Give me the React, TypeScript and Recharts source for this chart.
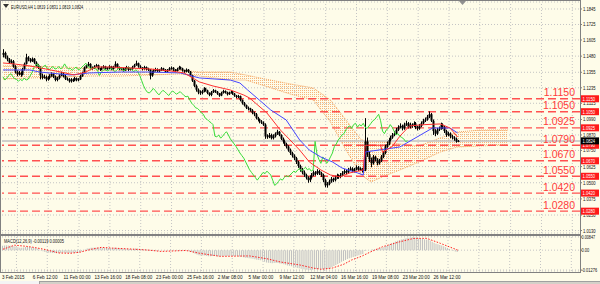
import React from "react";
import { ComposedChart, Bar, Line, Area, XAxis, YAxis, CartesianGrid, ReferenceLine } from "recharts";

// prices are in 1/10000, macd in 1/100000
const opens = [
  11490, 11505, 11470, 11455, 11430, 11440, 11400, 11360, 11340, 11350,
  11335, 11380, 11420, 11470, 11455, 11440, 11460, 11430, 11410, 11390,
  11330, 11315, 11320, 11300, 11310, 11330, 11340, 11320, 11295, 11310,
  11330, 11345, 11325, 11305, 11300, 11285, 11300, 11290, 11310, 11295,
  11300, 11325, 11350, 11390, 11410, 11420, 11395, 11385, 11400, 11410,
  11385, 11375, 11390, 11400, 11380, 11385, 11400, 11380, 11395, 11420,
  11395, 11380, 11385, 11370, 11385, 11395, 11375, 11380, 11395, 11410,
  11425, 11400, 11390, 11380, 11395, 11380, 11375, 11330, 11355, 11370,
  11380, 11365, 11370, 11385, 11375, 11360, 11370, 11385, 11390, 11375,
  11365, 11380, 11395, 11385, 11370, 11360, 11375, 11360, 11330, 11290,
  11250, 11220, 11200, 11195, 11210, 11230, 11215, 11195, 11180, 11200,
  11215, 11205, 11190, 11175, 11195, 11210, 11200, 11185, 11195, 11205,
  11190, 11175, 11165, 11170, 11140, 11115, 11100, 11080, 11075, 11060,
  11040, 11030, 11000, 10990, 10975, 10965, 10950, 10860, 10855, 10870,
  10845, 10860, 10880, 10895, 10870, 10840, 10820, 10800, 10780, 10755,
  10730, 10710, 10690, 10660, 10630, 10600, 10580, 10560, 10540, 10520,
  10540, 10560, 10580, 10570, 10590, 10575, 10560, 10520, 10480, 10490,
  10510, 10530, 10520, 10540, 10555, 10545, 10560, 10575, 10590, 10580,
  10600, 10610, 10590, 10605, 10620, 10600, 10610, 10590, 10600, 10820,
  10720, 10680, 10650, 10700, 10680, 10650, 10670, 10700, 10730, 10780,
  10800, 10830, 10850, 10870, 10880, 10910, 10930, 10940, 10920, 10950,
  10960, 10930, 10950, 10940, 10960, 10930, 10920, 10940, 10960, 10980,
  10990, 11010, 11030, 10980, 10900, 10880, 10910, 10920, 10950, 10930,
  10900, 10870, 10880, 10860, 10850, 10840, 10819,
];
const highs = [
  11534, 11515, 11485, 11465, 11455, 11450, 11410, 11370, 11365, 11360,
  11390, 11430, 11498, 11480, 11465, 11470, 11465, 11440, 11420, 11400,
  11345, 11335, 11330, 11325, 11340, 11355, 11350, 11330, 11320, 11340,
  11360, 11355, 11335, 11315, 11310, 11310, 11305, 11320, 11315, 11310,
  11335, 11360, 11400, 11420, 11435, 11425, 11400, 11410, 11420, 11415,
  11390, 11400, 11410, 11405, 11395, 11410, 11405, 11405, 11440, 11425,
  11400, 11395, 11390, 11395, 11405, 11400, 11390, 11405, 11420, 11445,
  11430, 11410, 11395, 11405, 11400, 11390, 11380, 11365, 11380, 11390,
  11385, 11380, 11395, 11390, 11380, 11380, 11395, 11400, 11395, 11380,
  11390, 11405, 11400, 11390, 11375, 11385, 11380, 11365, 11335, 11295,
  11260, 11230, 11215, 11220, 11240, 11235, 11220, 11200, 11210, 11225,
  11220, 11210, 11195, 11205, 11220, 11215, 11205, 11205, 11215, 11210,
  11195, 11180, 11180, 11175, 11145, 11125, 11105, 11090, 11080, 11070,
  11050, 11040, 11010, 10995, 10985, 10975, 10960, 10875, 10885, 10880,
  10875, 10890, 10910, 10900, 10875, 10850, 10830, 10810, 10790, 10765,
  10740, 10720, 10700, 10670, 10640, 10615, 10595, 10570, 10550, 10555,
  10575, 10595, 10590, 10605, 10600, 10585, 10570, 10530, 10505, 10525,
  10545, 10540, 10555, 10570, 10565, 10575, 10590, 10605, 10600, 10615,
  10625, 10620, 10615, 10635, 10630, 10620, 10615, 10610, 11000, 10850,
  10740, 10695, 10715, 10710, 10690, 10685, 10715, 10745, 10795, 10820,
  10845, 10865, 10885, 10900, 10925, 10945, 10960, 10950, 10965, 10980,
  10970, 10965, 10960, 10975, 10970, 10940, 10955, 10975, 10995, 11005,
  11025, 11052, 11040, 10990, 10915, 10925, 10935, 10965, 10960, 10940,
  10910, 10895, 10890, 10870, 10860, 10850, 10831,
];
const lows = [
  11470, 11460, 11440, 11420, 11420, 11390, 11345, 11325, 11330, 11320,
  11330, 11370, 11415, 11440, 11430, 11435, 11420, 11400, 11380, 11300,
  11300, 11305, 11285, 11290, 11300, 11320, 11310, 11285, 11285, 11300,
  11325, 11315, 11295, 11290, 11275, 11275, 11280, 11285, 11285, 11285,
  11295, 11320, 11345, 11385, 11400, 11385, 11375, 11380, 11395, 11375,
  11365, 11370, 11385, 11370, 11375, 11380, 11370, 11375, 11390, 11385,
  11370, 11370, 11360, 11365, 11380, 11365, 11370, 11375, 11390, 11405,
  11390, 11380, 11370, 11375, 11370, 11365, 11300, 11320, 11345, 11360,
  11355, 11355, 11365, 11365, 11350, 11350, 11365, 11375, 11365, 11355,
  11360, 11375, 11375, 11360, 11350, 11355, 11350, 11320, 11280, 11240,
  11205, 11185, 11180, 11185, 11200, 11205, 11185, 11170, 11170, 11195,
  11195, 11180, 11165, 11170, 11190, 11190, 11175, 11180, 11190, 11180,
  11165, 11155, 11155, 11130, 11105, 11090, 11070, 11060, 11050, 11030,
  11015, 10990, 10975, 10960, 10955, 10940, 10840, 10840, 10845, 10835,
  10835, 10850, 10870, 10860, 10830, 10805, 10785, 10765, 10740, 10715,
  10695, 10675, 10645, 10615, 10585, 10565, 10545, 10525, 10500, 10505,
  10530, 10550, 10555, 10560, 10560, 10545, 10505, 10465, 10462, 10480,
  10500, 10505, 10510, 10530, 10530, 10535, 10550, 10565, 10565, 10570,
  10590, 10580, 10580, 10595, 10590, 10590, 10580, 10580, 10590, 10700,
  10660, 10620, 10640, 10665, 10635, 10640, 10660, 10690, 10720, 10770,
  10790, 10820, 10840, 10860, 10870, 10900, 10920, 10905, 10910, 10940,
  10920, 10920, 10925, 10930, 10915, 10905, 10910, 10930, 10950, 10970,
  10980, 11000, 10970, 10870, 10860, 10870, 10900, 10910, 10915, 10885,
  10855, 10860, 10845, 10835, 10825, 10810, 10819,
];
const closes = [
  11505, 11470, 11455, 11430, 11440, 11400, 11360, 11340, 11350, 11335,
  11380, 11420, 11470, 11455, 11440, 11460, 11430, 11410, 11390, 11330,
  11315, 11320, 11300, 11310, 11330, 11340, 11320, 11295, 11310, 11330,
  11345, 11325, 11305, 11300, 11285, 11300, 11290, 11310, 11295, 11300,
  11325, 11350, 11390, 11410, 11420, 11395, 11385, 11400, 11410, 11385,
  11375, 11390, 11400, 11380, 11385, 11400, 11380, 11395, 11420, 11395,
  11380, 11385, 11370, 11385, 11395, 11375, 11380, 11395, 11410, 11425,
  11400, 11390, 11380, 11395, 11380, 11375, 11330, 11355, 11370, 11380,
  11365, 11370, 11385, 11375, 11360, 11370, 11385, 11390, 11375, 11365,
  11380, 11395, 11385, 11370, 11360, 11375, 11360, 11330, 11290, 11250,
  11220, 11200, 11195, 11210, 11230, 11215, 11195, 11180, 11200, 11215,
  11205, 11190, 11175, 11195, 11210, 11200, 11185, 11195, 11205, 11190,
  11175, 11165, 11170, 11140, 11115, 11100, 11080, 11075, 11060, 11040,
  11030, 11000, 10990, 10975, 10965, 10950, 10860, 10855, 10870, 10845,
  10860, 10880, 10895, 10870, 10840, 10820, 10800, 10780, 10755, 10730,
  10710, 10690, 10660, 10630, 10600, 10580, 10560, 10540, 10520, 10540,
  10560, 10580, 10570, 10590, 10575, 10560, 10520, 10480, 10490, 10510,
  10530, 10520, 10540, 10555, 10545, 10560, 10575, 10590, 10580, 10600,
  10610, 10590, 10605, 10620, 10600, 10610, 10590, 10600, 10820, 10720,
  10680, 10650, 10700, 10680, 10650, 10670, 10700, 10730, 10780, 10800,
  10830, 10850, 10870, 10880, 10910, 10930, 10940, 10920, 10950, 10960,
  10930, 10950, 10940, 10960, 10930, 10920, 10940, 10960, 10980, 10990,
  11010, 11030, 10980, 10900, 10880, 10910, 10920, 10950, 10930, 10900,
  10870, 10880, 10860, 10850, 10840, 10819, 10824,
];

// ichimoku lines read at a few bars: [bar, price]
const tenkan = [
  [0, 11427], [6, 11419], [14, 11404], [22, 11381], [30, 11357], [37, 11334], [43, 11357],
  [48, 11396], [56, 11396], [66, 11388], [76, 11381], [87, 11365], [94, 11350], [102, 11280],
  [109, 11249], [118, 11218], [125, 11179], [128, 11156], [137, 11040], [144, 10908],
  [149, 10831], [154, 10753], [159, 10661], [165, 10599], [170, 10560], [175, 10545],
  [180, 10576], [187, 10599], [188, 10790], [196, 10790], [197, 10735], [202, 10780],
  [206, 10860], [211, 10940], [219, 10950], [227, 10955], [232, 10924], [236, 10854],
];
const kijun = [
  [0, 11373], [14, 11373], [19, 11357], [35, 11334], [45, 11350], [61, 11357], [76, 11357],
  [92, 11350], [102, 11311], [118, 11295], [123, 11272], [127, 11218], [133, 11141],
  [139, 11063], [147, 10986], [154, 10831], [159, 10753], [165, 10699], [171, 10661],
  [176, 10614], [184, 10576], [187, 10560], [188, 10738], [206, 10777], [223, 10924],
  [232, 10924], [236, 10885],
];
const cloudUpper = [
  [0, 11404], [14, 11404], [30, 11396], [45, 11388], [61, 11381], [76, 11381], [92, 11373],
  [102, 11357], [118, 11357], [126, 11334], [136, 11303], [149, 11265], [161, 11234],
  [170, 11141], [178, 10986], [186, 10831], [191, 10823], [198, 10816], [206, 10800],
  [216, 10785], [227, 10847], [236, 10893], [248, 10908], [262, 10908],
];
const cloudLower = [
  [0, 11303], [14, 11311], [30, 11319], [45, 11326], [61, 11326], [76, 11334], [92, 11342],
  [102, 11326], [118, 11295], [126, 11295], [136, 11249], [149, 11187], [161, 11141],
  [170, 10970], [178, 10753], [186, 10560], [191, 10506], [198, 10552], [206, 10599],
  [216, 10661], [227, 10738], [236, 10777], [248, 10785], [262, 10792],
];

const macdMain = [
  280, 300, 310, 300, 290, 270, 250, 220, 190, 160,
  150, 170, 200, 210, 200, 190, 170, 140, 100, 40,
  -20, -70, -110, -140, -160, -170, -180, -190, -200, -190,
  -180, -170, -170, -180, -190, -190, -180, -170, -160, -150,
  -130, -80, -20, 40, 100, 130, 150, 160, 170, 160,
  150, 150, 150, 140, 140, 140, 130, 140, 160, 150,
  130, 120, 100, 90, 90, 80, 70, 70, 80, 100,
  100, 90, 70, 60, 40, 20, -30, -40, -40, -30,
  -30, -20, -10, -10, -10, -10, 0, 10, 10, 0,
  0, 10, 10, 0, -10, -10, -20, -60, -110, -170,
  -230, -280, -320, -340, -340, -350, -370, -390, -390, -380,
  -380, -390, -400, -390, -380, -380, -380, -370, -360, -360,
  -370, -380, -380, -400, -420, -450, -480, -500, -520, -540,
  -560, -590, -610, -630, -650, -660, -740, -790, -810, -830,
  -840, -830, -820, -830, -850, -880, -910, -940, -980, -1010,
  -1040, -1070, -1100, -1140, -1170, -1200, -1220, -1240, -1260, -1270,
  -1276, -1260, -1240, -1220, -1210, -1210, -1220, -1240, -1230, -1190,
  -1140, -1080, -1020, -960, -890, -820, -750, -690, -630, -570,
  -520, -480, -440, -400, -360, -320, -280, -240, -60, -20,
  0, 10, 40, 60, 70, 90, 120, 160, 210, 260,
  320, 380, 440, 500, 560, 610, 660, 690, 720, 750,
  780, 800, 820, 847, 830, 800, 770, 740, 720, 700,
  690, 680, 620, 540, 470, 420, 380, 340, 300, 250,
  190, 140, 80, 20, -40, -90, -119,
];
const macdSignal = [
  [0, 60], [6, 320], [12, 250], [16, 180], [22, 40], [29, -180], [35, -200], [40, -130],
  [46, 60], [51, 180], [57, 130], [67, 70], [76, 0], [82, -80], [95, -20], [102, -200],
  [113, -400], [123, -380], [128, -370], [137, -550], [144, -760], [154, -950],
  [161, -1150], [165, -1230], [171, -1150], [177, -900], [181, -630], [186, -400],
  [191, -100], [197, 220], [206, 540], [213, 750], [220, 760], [227, 440], [236, 5],
];

const levels = [11150, 11050, 10925, 10790, 10670, 10550, 10420, 10280];
const lastPrice = 10824;
const priceTicks = [11845, 11725, 11605, 11480, 11355, 11235, 11115, 10990, 10870, 10750, 10625, 10500, 10375, 10250, 10130];
const macdTicks = [847, 0, -1276];
const macdTickText = ["0.00847", "0.00", "-0.01276"];
const labelBars = [0, 16, 32, 48, 64, 80, 96, 112, 128, 144, 160, 176, 192, 208, 224];
const timeLabels = [
  "3 Feb 2015", "6 Feb 12:00", "11 Feb 00:00", "13 Feb 16:00", "18 Feb 08:00", "23 Feb 00:00",
  "25 Feb 16:00", "2 Mar 08:00", "5 Mar 00:00", "9 Mar 12:00", "12 Mar 04:00", "16 Mar 16:00",
  "19 Mar 08:00", "23 Mar 20:00", "26 Mar 12:00",
];
const headerText = "EURUSD,H4  1.0819 1.0831 1.0819 1.0824";
const macdTitle = "MACD(12,26,9) -0.00119 0.00005";

const SLOTS = 300;
const FONT = "'Liberation Sans', Arial, sans-serif";
const BG = "#fefce9";
const GRID = "#c4c4c4";
const P = (v: number) => v / 10000;
const M = (v: number) => v / 100000;
const PRICE_DOMAIN = [1.0111, 1.1899];
const MACD_DOMAIN = [-0.0134, 0.00911];
const CHAR_W = 2.25; // squeeze of the small platform font

const gridBars = labelBars.concat([240, 256, 272, 288]).map((b) => b + 7);

// table for the candle layer (category axis, one row per slot)
const rows: any[] = Array.from({ length: SLOTS }, (_, i) => ({ i }));
closes.forEach((c, i) => {
  rows[i].hl = [P(lows[i]), P(highs[i])];
  rows[i].o = P(opens[i]);
  rows[i].c = P(c);
  if (i >= 26) rows[i - 26].chikou = P(c);
});
tenkan.forEach(([i, v]) => (rows[i].tenkan = P(v)));
kijun.forEach(([i, v]) => (rows[i].kijun = P(v)));

// cloud layer (numeric axis)
const cloudRows = cloudUpper.map(([i, u], k) => ({
  i,
  band: [P(cloudLower[k][1]), P(u)],
  up: P(u),
  lo: P(cloudLower[k][1]),
}));

const macdRows: any[] = Array.from({ length: SLOTS }, (_, i) => ({ i }));
macdMain.forEach((v, i) => (macdRows[i].macd = M(v)));
macdSignal.forEach(([i, v]) => (macdRows[i].signal = M(v)));

const SmallText = ({ x, y, text, fill = "#111", size = 6, w = CHAR_W }: any) => (
  <text
    x={x}
    y={y}
    fontSize={size}
    fill={fill}
    fontFamily={FONT}
    textLength={text.length * w}
    lengthAdjust="spacingAndGlyphs"
  >
    {text}
  </text>
);

const Candle = (props: any) => {
  const { x, width, payload } = props;
  let { y, height } = props;
  if (!payload || payload.o == null) return null;
  if (height < 0) {
    y += height;
    height = -height;
  }
  const [lo, hi] = payload.hl;
  const k = hi > lo ? height / (hi - lo) : 0;
  const yo = y + (hi - payload.o) * k;
  const yc = y + (hi - payload.c) * k;
  const cx = Math.round(x + width / 2) + 0.5;
  const top = Math.min(yo, yc);
  const bh = Math.max(Math.abs(yc - yo), 1);
  return (
    <g>
      <line x1={cx} x2={cx} y1={y} y2={y + height} stroke="#000" strokeWidth={1} />
      <rect x={cx - 1} y={top} width={2} height={bh} fill="#000" />
    </g>
  );
};

const PriceTick = (p: any) => <SmallText x={p.x} y={p.y + 2} text={Number(p.payload.value).toFixed(4)} w={2.1} />;

const MacdTick = (p: any) => {
  const idx = macdTicks.findIndex((t) => Math.abs(M(t) - p.payload.value) < 1e-7);
  const t = macdTickText[idx] ?? "";
  return <SmallText x={p.x - 1.5} y={p.y + 2} text={t} size={4.6} w={1.95} />;
};

const TimeTick = (p: any) => {
  const idx = labelBars.indexOf(p.payload.value);
  return <SmallText x={p.x - 1} y={p.y + 8} text={timeLabels[idx]} size={5.5} />;
};

const LevelText = (props: any) => {
  const { viewBox, text } = props;
  if (!viewBox) return null;
  return (
    <text
      x={viewBox.x + viewBox.width - 5}
      y={viewBox.y - 2.5}
      textAnchor="end"
      fontSize={10.5}
      fill="#ff3b3b"
      fontFamily={FONT}
    >
      {text}
    </text>
  );
};

const AxisBox = (props: any) => {
  const { viewBox, text, color } = props;
  if (!viewBox) return null;
  const bx = viewBox.x + viewBox.width + 1;
  return (
    <g>
      <rect x={bx} y={viewBox.y - 3.5} width={18} height={7} fill={color} />
      <SmallText x={bx + 1.5} y={viewBox.y + 2} text={text} fill="#fff" size={5} w={2.1} />
    </g>
  );
};

export default function App() {
  return (
    <div style={{ position: "absolute", left: 0, top: 0, width: 600, height: 284, background: BG, overflow: "hidden" }}>
      <svg width={0} height={0} style={{ position: "absolute" }}>
        <defs>
          <pattern id="cloudDots" width={2} height={2} patternUnits="userSpaceOnUse">
            <rect width={1} height={1} fill="#f4a460" />
          </pattern>
        </defs>
      </svg>

      {/* back layer: grid, axis, levels, cloud */}
      <div style={{ position: "absolute", left: 0, top: 0 }}>
        <ComposedChart width={600} height={234} data={cloudRows} margin={{ top: 2, right: 0, bottom: 1, left: 2 }}>
          <XAxis type="number" dataKey="i" domain={[-0.5, SLOTS - 0.5]} hide allowDataOverflow />
          <YAxis
            orientation="right"
            width={20}
            domain={PRICE_DOMAIN}
            allowDataOverflow
            ticks={priceTicks.map(P)}
            interval={0}
            tick={<PriceTick />}
            tickSize={2}
            tickMargin={1}
            tickLine={{ stroke: "#808080" }}
            axisLine={false}
          />
          <CartesianGrid vertical={false} stroke={GRID} strokeDasharray="1 2" />
          {gridBars.map((b) => (
            <ReferenceLine key={"g" + b} x={b + 0.5} stroke={GRID} strokeDasharray="1 2" />
          ))}
          <Area
            dataKey="band"
            type="linear"
            fill="url(#cloudDots)"
            fillOpacity={0.8}
            stroke="none"
            isAnimationActive={false}
          />
          <Line dataKey="up" type="linear" stroke="#f4a460" strokeDasharray="1 1" dot={false} isAnimationActive={false} />
          <Line dataKey="lo" type="linear" stroke="#f4a460" strokeDasharray="1 1" dot={false} isAnimationActive={false} />
          <ReferenceLine y={P(lastPrice)} stroke="#c0c0c0" strokeWidth={1.5} />
          {levels.map((lv) => (
            <ReferenceLine
              key={"l" + lv}
              y={P(lv)}
              stroke="#ff5050"
              strokeWidth={1.4}
              strokeDasharray="8 4"
              label={<LevelText text={P(lv).toFixed(4)} />}
            />
          ))}
        </ComposedChart>
      </div>

      {/* candles and lines */}
      <div style={{ position: "absolute", left: 0, top: 0 }}>
        <ComposedChart width={600} height={234} data={rows} margin={{ top: 2, right: 20, bottom: 1, left: 2 }}>
          <XAxis dataKey="i" hide />
          <YAxis hide domain={PRICE_DOMAIN} allowDataOverflow />
          <Bar dataKey="hl" shape={<Candle />} isAnimationActive={false} />
          <Line dataKey="chikou" type="linear" stroke="#38dd38" strokeWidth={1} dot={false} connectNulls isAnimationActive={false} />
          <Line dataKey="kijun" type="linear" stroke="#4646ff" strokeWidth={1} dot={false} connectNulls isAnimationActive={false} />
          <Line dataKey="tenkan" type="linear" stroke="#ff3030" strokeWidth={1} dot={false} connectNulls isAnimationActive={false} />
          {levels.map((lv) => (
            <ReferenceLine key={"b" + lv} y={P(lv)} strokeOpacity={0} label={<AxisBox text={P(lv).toFixed(4)} color="#ff1a1a" />} />
          ))}
          <ReferenceLine y={P(lastPrice)} strokeOpacity={0} label={<AxisBox text={P(lastPrice).toFixed(4)} color="#000" />} />
        </ComposedChart>
      </div>

      {/* MACD window */}
      <div style={{ position: "absolute", left: 0, top: 235 }}>
        <ComposedChart width={600} height={49} data={macdRows} margin={{ top: 1, right: 0, bottom: 0, left: 2 }}>
          <XAxis
            dataKey="i"
            height={13}
            ticks={labelBars}
            interval={0}
            tick={<TimeTick />}
            tickLine={false}
            axisLine={false}
            tickSize={0}
            tickMargin={0}
          />
          <YAxis
            orientation="right"
            width={20}
            domain={MACD_DOMAIN}
            allowDataOverflow
            ticks={macdTicks.map(M)}
            interval={0}
            tick={<MacdTick />}
            tickSize={2}
            tickMargin={1}
            tickLine={{ stroke: "#808080" }}
            axisLine={false}
          />
          <CartesianGrid vertical={false} stroke={GRID} strokeDasharray="1 2" />
          {gridBars.map((b) => (
            <ReferenceLine key={"m" + b} x={b} stroke={GRID} strokeDasharray="1 2" />
          ))}
          <Bar dataKey="macd" fill="#c0c0c0" barSize={1} isAnimationActive={false} />
          <Line dataKey="signal" type="linear" stroke="#ff2020" strokeDasharray="1.5 1.5" dot={false} connectNulls isAnimationActive={false} />
        </ComposedChart>
      </div>

      {/* window frames */}
      <div style={{ position: "absolute", left: 0, top: 0, width: 581, height: 235, border: "1px solid #808080", boxSizing: "border-box", pointerEvents: "none" }} />
      <div style={{ position: "absolute", left: 0, top: 235, width: 581, height: 38, border: "1px solid #808080", boxSizing: "border-box", pointerEvents: "none" }} />

      {/* captions */}
      <svg width={600} height={284} style={{ position: "absolute", left: 0, top: 0, pointerEvents: "none" }}>
        <polygon points="3,4 9,4 6,8" fill="#333" />
        <SmallText x={11} y={9} text={headerText} w={1.9} />
        <polygon points="459,1 466,1 462.5,5" fill="#909090" />
        <SmallText x={4} y={243} text={macdTitle} w={2.0} />
      </svg>

      {/* bottom tab strip */}
      <div style={{ position: "absolute", left: 0, top: 281, width: 600, height: 3, background: "#d4d0c8", borderTop: "1px solid #a0a0a0", boxSizing: "border-box" }} />
      <div style={{ position: "absolute", left: 0, top: 281, width: 40, height: 3, background: "#f4f4f4", borderRight: "1px solid #a0a0a0", boxSizing: "border-box" }} />
    </div>
  );
}
